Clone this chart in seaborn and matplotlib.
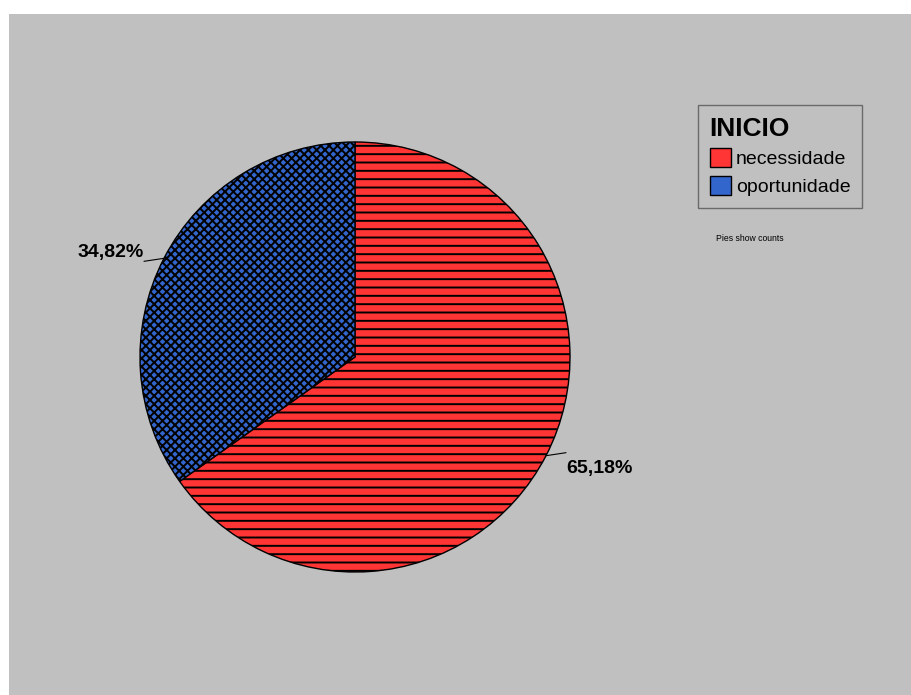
import numpy as np
import matplotlib
matplotlib.use("Agg")
from matplotlib import pyplot as plt
import seaborn as sns

# data
categories = ['necessidade', 'oportunidade']
shares = [65.18, 34.82]
colors = ['#FF3434', '#3366CC']
hatches = ['--', 'xxxx']
legend_title = 'INICIO'
note = 'Pies show counts'

W, H = 911, 695
sns.set_style('white')
plt.rcParams['font.family'] = ['Liberation Sans', 'DejaVu Sans']
plt.rcParams['text.color'] = 'black'
plt.rcParams['hatch.linewidth'] = 1.4

fig = plt.figure(figsize=(W / 100, H / 100), dpi=100, facecolor='white')
ax = fig.add_axes([9 / W, 0, (W - 9) / W, (H - 14) / H])
ax.set_facecolor('#C0C0C0')

cx, cy, r = 355, H - 357, 215
wedges, _ = ax.pie(shares, colors=colors, startangle=90, counterclock=False,
                   center=(cx, cy), radius=r, frame=True, hatch=hatches,
                   wedgeprops=dict(edgecolor='black', linewidth=1.0))
ax.set_xlim(9, W)
ax.set_ylim(0, H - 14)
ax.set_aspect('equal')
ax.set_xticks([])
ax.set_yticks([])
for s in ax.spines.values():
    s.set_visible(False)

total = sum(shares)
for w, v in zip(wedges, shares):
    mid = np.deg2rad((w.theta1 + w.theta2) / 2)
    x0, y0 = cx + r * np.cos(mid), cy + r * np.sin(mid)
    side = 1 if np.cos(mid) > 0 else -1
    x1, y1 = x0 + side * 20, y0 + side * 3
    ax.plot([x0, x1], [y0, y1], color='black', lw=0.8)
    label = f'{v / total * 100:.2f}%'.replace('.', ',')
    if y0 < cy:
        ax.text(x1, y1 - 7, label, ha='left' if side > 0 else 'right', va='top',
                fontsize=14, fontweight='bold', color='black')
    else:
        ax.text(x1, y1 + 4, label, ha='left' if side > 0 else 'right', va='baseline',
                fontsize=14, fontweight='bold', color='black')

leg = ax.legend(wedges, categories, title=legend_title, loc='upper left',
                bbox_to_anchor=(698 / W, 1 - 105 / H), bbox_transform=fig.transFigure,
                borderaxespad=0, fontsize=14, title_fontproperties=dict(size=19, weight='bold'),
                alignment='left', fancybox=False, frameon=True, handlelength=1.1,
                handleheight=1.1, handletextpad=0.25, labelspacing=0.4, borderpad=0.6)
leg.get_frame().set_facecolor('#C0C0C0')
leg.get_frame().set_edgecolor('#555555')
leg.get_frame().set_linewidth(1.0)
for t in leg.get_texts():
    t.set_color('black')
leg.get_title().set_color('black')
for h in leg.legend_handles:
    h.set_hatch(None)

fig.text(750 / W, 1 - 238 / H, note, fontsize=6.2, ha='center', va='center', color='black')

fig.savefig('out.png', dpi=100, facecolor='white')
